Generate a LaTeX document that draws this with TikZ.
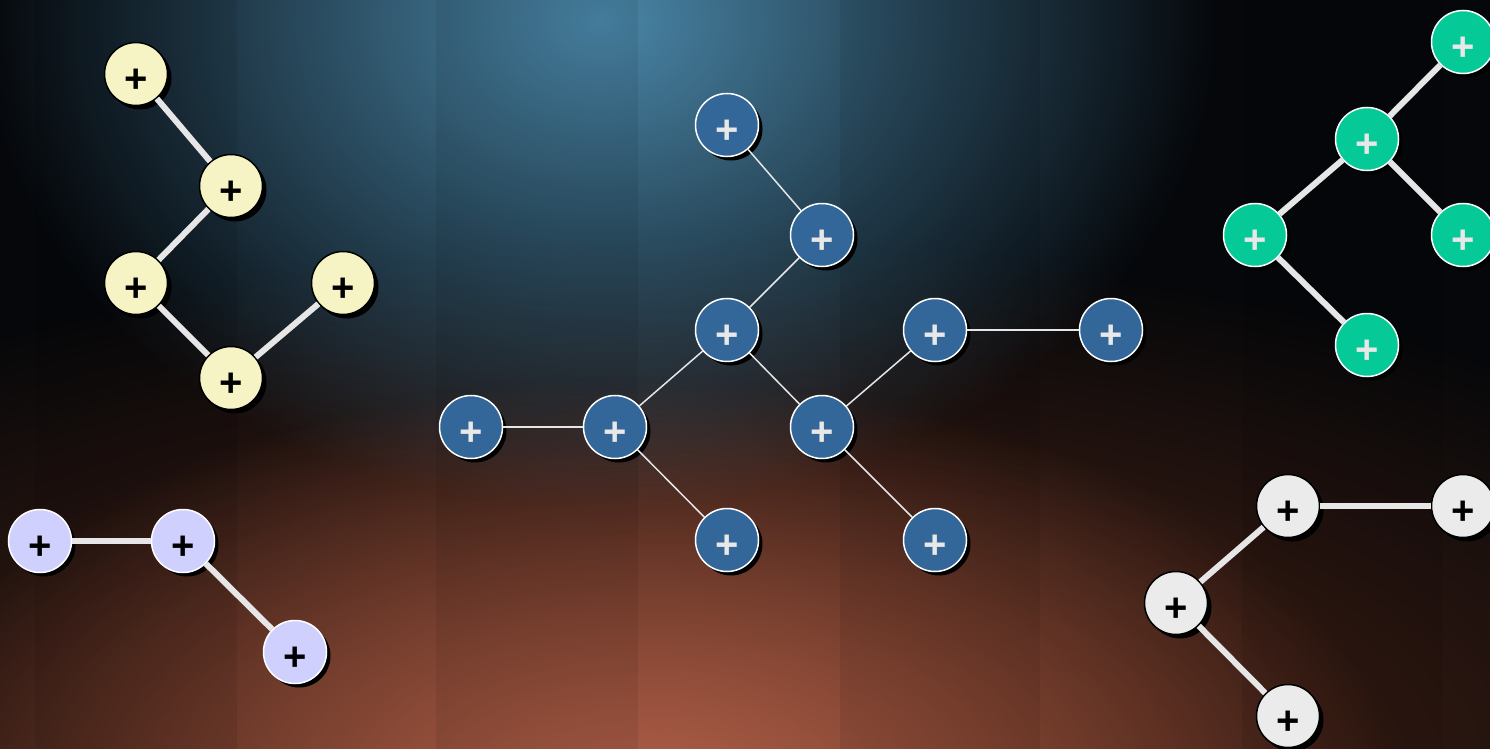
\documentclass[tikz,border=0pt]{standalone}
\usepackage{fontspec}
\setmainfont{Liberation Sans}
\usetikzlibrary{shadows,fadings}
\tikzfading[name=glowfade, inner color=transparent!0, outer color=transparent!100]
\definecolor{bgbase}{HTML}{05070A}
\definecolor{glowblue}{HTML}{4A86A8}
\definecolor{glowred}{HTML}{B0604A}
\definecolor{glowbrown}{HTML}{5A2A18}
\definecolor{edgecol}{HTML}{E6E6E6}
\definecolor{cyellow}{HTML}{F6F4C4}
\definecolor{clav}{HTML}{CFD0FD}
\definecolor{cblue}{HTML}{336699}
\definecolor{cgreen}{HTML}{05C997}
\definecolor{cwhite}{HTML}{EBEBEB}
\definecolor{pluslight}{HTML}{E8E8E8}
\tikzset{
  nd/.style={circle, minimum size=63pt, inner sep=0pt, line width=1.5pt,
    font=\fontsize{40}{40}\selectfont\bfseries, text height=37pt, text depth=0pt,
    drop shadow={shadow xshift=4pt, shadow yshift=-4pt, fill=black, opacity=1}},
  ynode/.style={nd, fill=cyellow, draw=black, text=black},
  lnode/.style={nd, fill=clav, draw=white, text=black},
  bnode/.style={nd, fill=cblue, draw=white, text=pluslight},
  gnode/.style={nd, fill=cgreen, draw=white, text=pluslight},
  wnode/.style={nd, fill=cwhite, draw=black, text=black},
  thick edge/.style={draw=edgecol, line width=6pt},
  thin edge/.style={draw=edgecol, line width=1.5pt},
}
\begin{document}
\begin{tikzpicture}[x=1pt,y=-1pt]
\useasboundingbox (0,0) rectangle (1490,749);
\fill[bgbase] (0,0) rectangle (1490,749);
\fill[glowbrown, path fading=glowfade] (700,780) ellipse (1300 and 540);
\fill[glowred, path fading=glowfade] (640,800) ellipse (760 and 420);
\fill[glowblue, path fading=glowfade] (600,20) ellipse (620 and 490);
\foreach \a/\b in {35/237,436/638,840/1040,1242/1443}
  \fill[black, opacity=0.07] (\a,0) rectangle (\b,749);

% yellow
\node[ynode] (y1) at (136,74) {+};
\node[ynode] (y2) at (231,186) {+};
\node[ynode] (y3) at (136,283) {+};
\node[ynode] (y4) at (343,283) {+};
\node[ynode] (y5) at (231,378) {+};
\draw[thick edge] (y1) -- (y2);
\draw[thick edge] (y2) -- (y3);
\draw[thick edge] (y3) -- (y5);
\draw[thick edge] (y5) -- (y4);

% lavender
\node[lnode] (l1) at (40,541) {+};
\node[lnode] (l2) at (183,541) {+};
\node[lnode] (l3) at (295,652) {+};
\draw[thick edge] (l1) -- (l2);
\draw[thick edge] (l2) -- (l3);

% blue
\node[bnode] (b1) at (727,125) {+};
\node[bnode] (b2) at (822,235) {+};
\node[bnode] (b3) at (727,330) {+};
\node[bnode] (b4) at (935,330) {+};
\node[bnode] (b5) at (1111,330) {+};
\node[bnode] (b6) at (471,427) {+};
\node[bnode] (b7) at (615,427) {+};
\node[bnode] (b8) at (822,427) {+};
\node[bnode] (b9) at (727,540) {+};
\node[bnode] (b10) at (935,540) {+};
\draw[thin edge] (b1) -- (b2);
\draw[thin edge] (b2) -- (b3);
\draw[thin edge] (b3) -- (b7);
\draw[thin edge] (b3) -- (b8);
\draw[thin edge] (b7) -- (b6);
\draw[thin edge] (b7) -- (b9);
\draw[thin edge] (b8) -- (b4);
\draw[thin edge] (b4) -- (b5);
\draw[thin edge] (b8) -- (b10);

% green
\node[gnode] (g1) at (1463,42) {+};
\node[gnode] (g2) at (1367,139) {+};
\node[gnode] (g3) at (1255,235) {+};
\node[gnode] (g4) at (1463,235) {+};
\node[gnode] (g5) at (1367,345) {+};
\draw[thick edge] (g1) -- (g2);
\draw[thick edge] (g2) -- (g3);
\draw[thick edge] (g2) -- (g4);
\draw[thick edge] (g3) -- (g5);

% white
\node[wnode] (w1) at (1288,506) {+};
\node[wnode] (w2) at (1463,506) {+};
\node[wnode] (w3) at (1176,603) {+};
\node[wnode] (w4) at (1288,716) {+};
\draw[thick edge] (w1) -- (w2);
\draw[thick edge] (w1) -- (w3);
\draw[thick edge] (w3) -- (w4);
\end{tikzpicture}
\end{document}
